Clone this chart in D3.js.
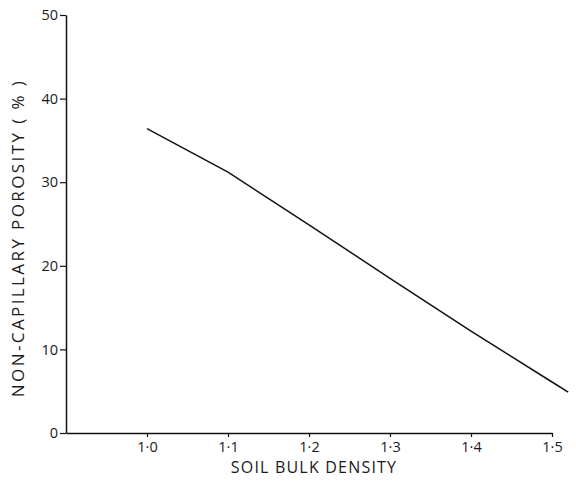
<!DOCTYPE html>
<html>
<head>
<meta charset="utf-8">
<script src="https://cdn.jsdelivr.net/npm/d3@7"></script>
<style>
  body { margin: 0; background: #fff; }
  text { font-family: "Open Sans", "DejaVu Sans", sans-serif; fill: #1a1a1a; }
</style>
</head>
<body>
<div id="chart"></div>
<script>
// values
let bulkDensity = [1.0, 1.1, 1.2, 1.3, 1.4, 1.5, 1.52];
let porosity = [36.4, 31.2, 24.9, 18.5, 12.2, 6.1, 4.9];
let xTicks = [1.0, 1.1, 1.2, 1.3, 1.4, 1.5];
let yTicks = [0, 10, 20, 30, 40, 50];

var width = 576, height = 481;
var svg = d3.select("#chart")
  .append("svg")
    .attr("width", width)
    .attr("height", height);

var x = d3.scaleLinear()
  .domain([0.9, 1.5])
  .range([66, 552]);

var y = d3.scaleLinear()
  .domain([0, 50])
  .range([433, 15]);

// x axis
var xAxis = svg.append("g")
  .attr("transform", "translate(0," + y(0) + ")")
  .call(d3.axisBottom(x)
    .tickValues(xTicks)
    .tickSize(4)
    .tickSizeOuter(0)
    .tickFormat(function(d) { return d.toFixed(1).replace(".", "\u00b7"); }));
xAxis.select(".domain").attr("stroke", "#111").attr("stroke-width", 1.5);
xAxis.selectAll(".tick line").attr("stroke", "#111").attr("stroke-width", 1.2);
xAxis.selectAll(".tick text")
  .attr("y", 9)
  .style("font-size", "14.5px")
  .style("font-family", "'Open Sans', sans-serif");

// y axis
var yAxis = svg.append("g")
  .attr("transform", "translate(" + x(0.9) + ",0)")
  .call(d3.axisLeft(y)
    .tickValues(yTicks)
    .tickSize(6)
    .tickSizeOuter(0));
yAxis.select(".domain").attr("stroke", "#111").attr("stroke-width", 1.5);
yAxis.selectAll(".tick line").attr("stroke", "#111").attr("stroke-width", 1.2);
yAxis.selectAll(".tick text")
  .attr("x", -8)
  .style("font-size", "14.5px")
  .style("font-family", "'Open Sans', sans-serif");

// axis titles
svg.append("text")
  .attr("x", 314)
  .attr("y", 473)
  .attr("text-anchor", "middle")
  .style("font-size", "16px")
  .style("letter-spacing", "1.2px")
  .text("SOIL BULK DENSITY");

svg.append("text")
  .attr("transform", "translate(24,238)rotate(-90)")
  .attr("text-anchor", "middle")
  .style("font-size", "17px")
  .style("letter-spacing", "2.4px")
  .text("NON-CAPILLARY POROSITY ( % )");

// the line
var data = bulkDensity.map(function(d, i) { return { bd: d, p: porosity[i] }; });
svg.append("path")
  .datum(data)
  .attr("fill", "none")
  .attr("stroke", "#111")
  .attr("stroke-width", 1.5)
  .attr("d", d3.line()
    .x(function(d) { return x(d.bd); })
    .y(function(d) { return y(d.p); }));
</script>
</body>
</html>
